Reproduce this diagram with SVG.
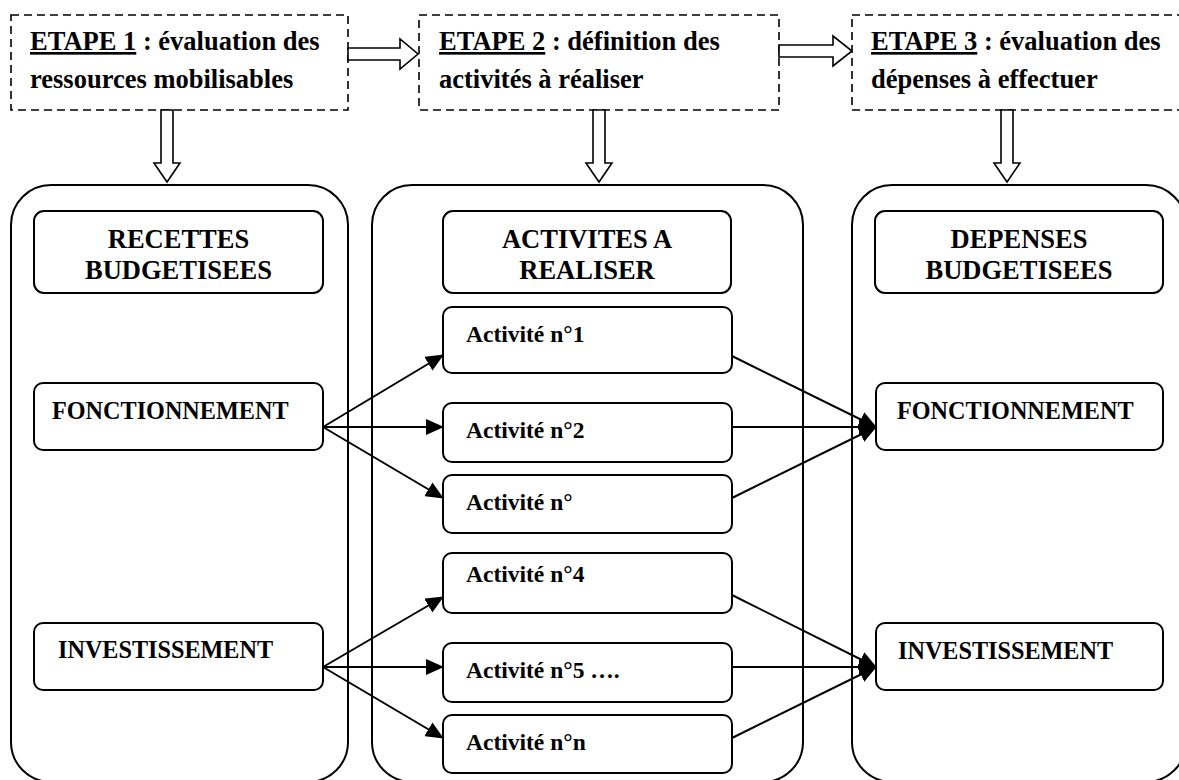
<svg xmlns="http://www.w3.org/2000/svg" width="1179" height="780" viewBox="0 0 1179 780">
<style>
  .t { font-family: "Liberation Serif", "Times New Roman", serif; font-weight: bold; fill: #000; }
  .big { font-size: 26.5px; }
  .small { font-size: 23.5px; }
  .node { font-size: 24.2px; }
  .dash { fill: #fff; stroke: #000; stroke-width: 1.6; stroke-dasharray: 8 5; }
  .col { fill: none; stroke: #000; stroke-width: 2; }
  .box { fill: #fff; stroke: #000; stroke-width: 2; }
  .hollow { fill: #fff; stroke: #000; stroke-width: 1.6; stroke-linejoin: miter; }
  .conn { fill: none; stroke: #000; stroke-width: 2; marker-end: url(#arr); }
</style>
<defs>
  <marker id="arr" markerUnits="userSpaceOnUse" markerWidth="18" markerHeight="16" viewBox="0 0 18 16" refX="17" refY="8" orient="auto">
    <path d="M0,0 L18,8 L0,16 Z" fill="#000"/>
  </marker>
</defs>
<rect width="1179" height="780" fill="#fff"/>

<!-- Column containers -->
<g id="col-recettes"><rect class="col" x="11" y="185" width="337" height="597" rx="40" ry="40"/></g>
<g id="col-activites"><rect class="col" x="372" y="185" width="431" height="597" rx="40" ry="40"/></g>
<g id="col-depenses"><rect class="col" x="852" y="185" width="334" height="597" rx="40" ry="40"/></g>

<!-- Step boxes -->
<g id="etape1">
  <rect class="dash" x="11" y="15" width="337" height="95"/>
  <text class="t big" x="30" y="50"><tspan text-decoration="underline">ETAPE 1</tspan> : évaluation des</text>
  <text class="t big" x="30" y="88">ressources mobilisables</text>
</g>
<g id="etape2">
  <rect class="dash" x="419" y="15" width="360" height="95"/>
  <text class="t big" x="439" y="50"><tspan text-decoration="underline">ETAPE 2</tspan> : définition des</text>
  <text class="t big" x="439" y="88">activités à réaliser</text>
</g>
<g id="etape3">
  <rect class="dash" x="852" y="15" width="340" height="95"/>
  <text class="t big" x="871" y="50"><tspan text-decoration="underline">ETAPE 3</tspan> : évaluation des</text>
  <text class="t big" x="871" y="88">dépenses à effectuer</text>
</g>

<!-- Column headers -->
<g id="hdr-recettes">
  <rect class="box" x="34" y="211" width="289" height="82" rx="10" ry="10"/>
  <text class="t big" x="178.5" y="248" text-anchor="middle">RECETTES</text>
  <text class="t big" x="178.5" y="279" text-anchor="middle">BUDGETISEES</text>
</g>
<g id="hdr-activites">
  <rect class="box" x="443" y="211" width="288" height="82" rx="10" ry="10"/>
  <text class="t big" x="587" y="248" text-anchor="middle">ACTIVITES A</text>
  <text class="t big" x="587" y="279" text-anchor="middle">REALISER</text>
</g>
<g id="hdr-depenses">
  <rect class="box" x="875" y="211" width="288" height="82" rx="10" ry="10"/>
  <text class="t big" x="1019" y="248" text-anchor="middle">DEPENSES</text>
  <text class="t big" x="1019" y="279" text-anchor="middle">BUDGETISEES</text>
</g>

<!-- Left nodes -->
<g id="rec-fonct">
  <rect class="box" x="34" y="383" width="289" height="67" rx="9" ry="9"/>
  <text class="t node" x="52" y="419">FONCTIONNEMENT</text>
</g>
<g id="rec-invest">
  <rect class="box" x="34" y="623" width="289" height="67" rx="9" ry="9"/>
  <text class="t node" x="58" y="658">INVESTISSEMENT</text>
</g>

<!-- Activities -->
<g id="act1">
  <rect class="box" x="443" y="307" width="289" height="66" rx="9" ry="9"/>
  <text class="t small" x="466" y="342">Activité n°1</text>
</g>
<g id="act2">
  <rect class="box" x="443" y="403" width="289" height="59" rx="9" ry="9"/>
  <text class="t small" x="466" y="438">Activité n°2</text>
</g>
<g id="act3">
  <rect class="box" x="443" y="475" width="289" height="58" rx="9" ry="9"/>
  <text class="t small" x="466" y="510">Activité n°</text>
</g>
<g id="act4">
  <rect class="box" x="443" y="553" width="289" height="60" rx="9" ry="9"/>
  <text class="t small" x="466" y="582">Activité n°4</text>
</g>
<g id="act5">
  <rect class="box" x="443" y="643" width="289" height="59" rx="9" ry="9"/>
  <text class="t small" x="466" y="678">Activité n°5 ….</text>
</g>
<g id="actn">
  <rect class="box" x="443" y="715" width="289" height="58" rx="9" ry="9"/>
  <text class="t small" x="466" y="750">Activité n°n</text>
</g>

<!-- Right nodes -->
<g id="dep-fonct">
  <rect class="box" x="876" y="383" width="287" height="67" rx="9" ry="9"/>
  <text class="t node" x="897" y="419">FONCTIONNEMENT</text>
</g>
<g id="dep-invest">
  <rect class="box" x="876" y="623" width="287" height="67" rx="9" ry="9"/>
  <text class="t node" x="898" y="659">INVESTISSEMENT</text>
</g>

<!-- Connectors -->
<g id="connectors">
  <!-- hollow block arrows -->
  <polygon class="hollow" points="348,48 400,48 400,39 418,54 400,69 400,60 348,60"/>
  <polygon class="hollow" points="779,45 833,45 833,36 852,51 833,66 833,57 779,57"/>
  <polygon class="hollow" points="161,110 173,110 173,163 180,163 167,182 154,163 161,163"/>
  <polygon class="hollow" points="593,110 605,110 605,163 612,163 599,182 586,163 593,163"/>
  <polygon class="hollow" points="1001,110 1013,110 1013,163 1020,163 1007,182 994,163 1001,163"/>
  <!-- recettes to activities -->
  <line class="conn" x1="323" y1="427" x2="443" y2="355"/>
  <line class="conn" x1="323" y1="427" x2="443" y2="427"/>
  <line class="conn" x1="323" y1="427" x2="443" y2="498"/>
  <line class="conn" x1="323" y1="667" x2="443" y2="597"/>
  <line class="conn" x1="323" y1="667" x2="443" y2="667"/>
  <line class="conn" x1="323" y1="667" x2="443" y2="738"/>
  <!-- activities to depenses -->
  <line class="conn" x1="732" y1="356" x2="876" y2="427"/>
  <line class="conn" x1="732" y1="427" x2="876" y2="427"/>
  <line class="conn" x1="732" y1="498" x2="876" y2="427"/>
  <line class="conn" x1="732" y1="595" x2="876" y2="667"/>
  <line class="conn" x1="732" y1="667" x2="876" y2="667"/>
  <line class="conn" x1="732" y1="738" x2="876" y2="667"/>
</g>
</svg>
